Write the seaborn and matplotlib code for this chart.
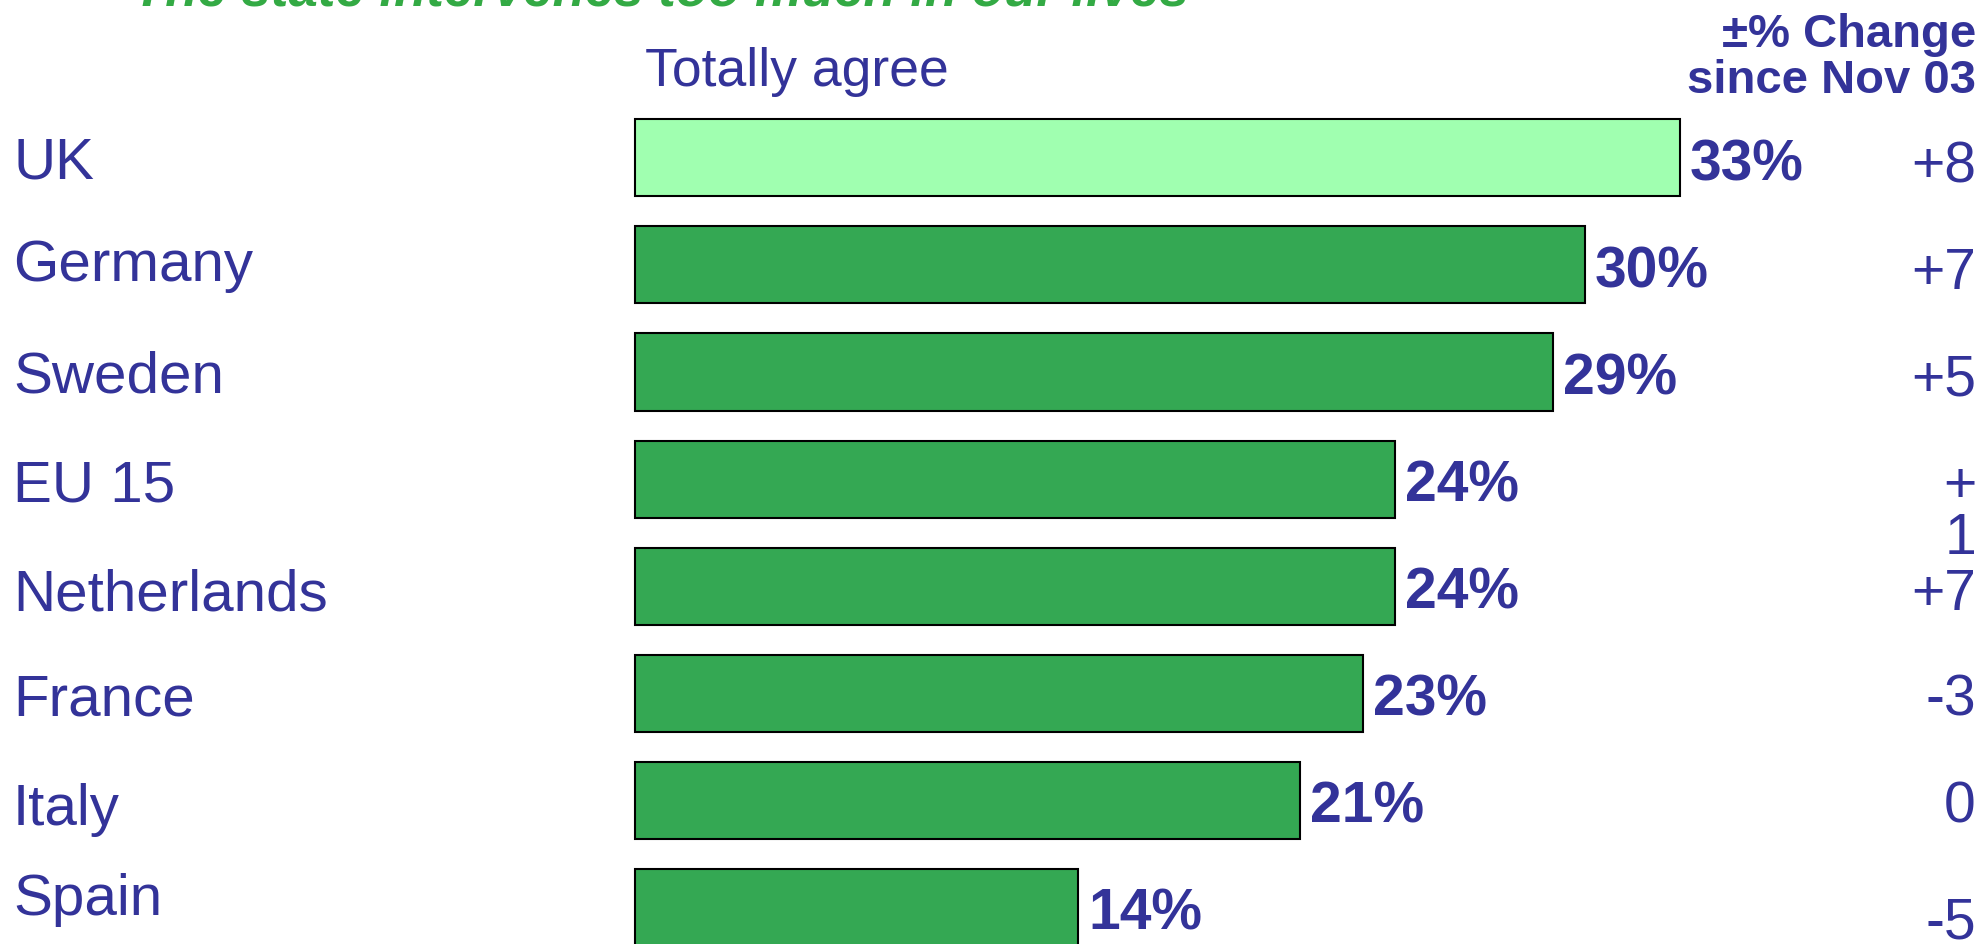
import matplotlib
matplotlib.use("Agg")
import matplotlib.pyplot as plt
import matplotlib.transforms as mtransforms
import seaborn as sns
import pandas as pd

countries = ["UK", "Germany", "Sweden", "EU 15", "Netherlands", "France", "Italy", "Spain"]
values = [33, 30, 29, 24, 24, 23, 21, 14]
change_labels = ["+8", "+7", "+5", "+\n1", "+7", "-3", "0", "-5"]
highlight = ["UK", "other", "other", "other", "other", "other", "other", "other"]
title = "The state intervenes too much in our lives"
col_header = "Totally agree"
change_header = "±% Change\nsince Nov 03"

NAVY = "#333399"
GREEN = "#34A853"
LIGHT = "#A0FFB0"

sns.set_theme(style="white")
plt.rcParams["font.family"] = ["Liberation Sans", "DejaVu Sans"]

W, H = 1984, 945
fig = plt.figure(figsize=(W / 100, H / 100), dpi=100)
ax = fig.add_axes([0, 0, 1, 1])

df = pd.DataFrame({"country": countries, "value": values, "grp": highlight})
sns.barplot(data=df, x="value", y="country", hue="grp", orient="h",
            palette={"UK": LIGHT, "other": GREEN}, dodge=False, width=0.72,
            saturation=1, edgecolor="black", linewidth=1.5, legend=False, ax=ax)

pxper = 31.67
x0 = 635
ax.set_xlim(-x0 / pxper, (W - x0) / pxper)
c0 = 158.8
step = 107.1
ax.set_ylim((H - c0) / step, -c0 / step)
ax.axis("off")

# value labels
for i, v in enumerate(values):
    ax.text(v + 0.3, i + 0.06, f"{v}%", ha="left", va="center",
            fontsize=41, fontweight="bold", color=NAVY)

# country labels
ytr = mtransforms.blended_transform_factory(fig.transFigure, ax.transData)
label_off = [0.04, 0.0, 0.04, 0.06, 0.08, 0.06, 0.08, -0.08]
for i, c in enumerate(countries):
    ax.text(13 / W, i + label_off[i], c, transform=ytr, ha="left", va="center",
            fontsize=42, color=NAVY)

# change column
chg_off = [0.08, 0.08, 0.07, 0.31, 0.07, 0.06, 0.06, 0.14]
for i, s in enumerate(change_labels):
    ax.text(1976 / W, i + chg_off[i], s, transform=ytr, ha="right", va="center",
            fontsize=41, color=NAVY, linespacing=0.95)

# headers
fig.text(645 / W, 1 - 72 / H, col_header, ha="left", va="center",
         fontsize=38.5, color=NAVY)
fig.text(1976 / W, 1 - 58 / H, change_header, ha="right", va="center",
         fontsize=34, fontweight="bold", color=NAVY, linespacing=1.05)
fig.text(133 / W, 1 - 6 / H, title, ha="left", va="baseline",
         fontsize=38, fontweight="bold", fontstyle="italic", color="#33AA44")

fig.savefig("out.png", dpi=100)
